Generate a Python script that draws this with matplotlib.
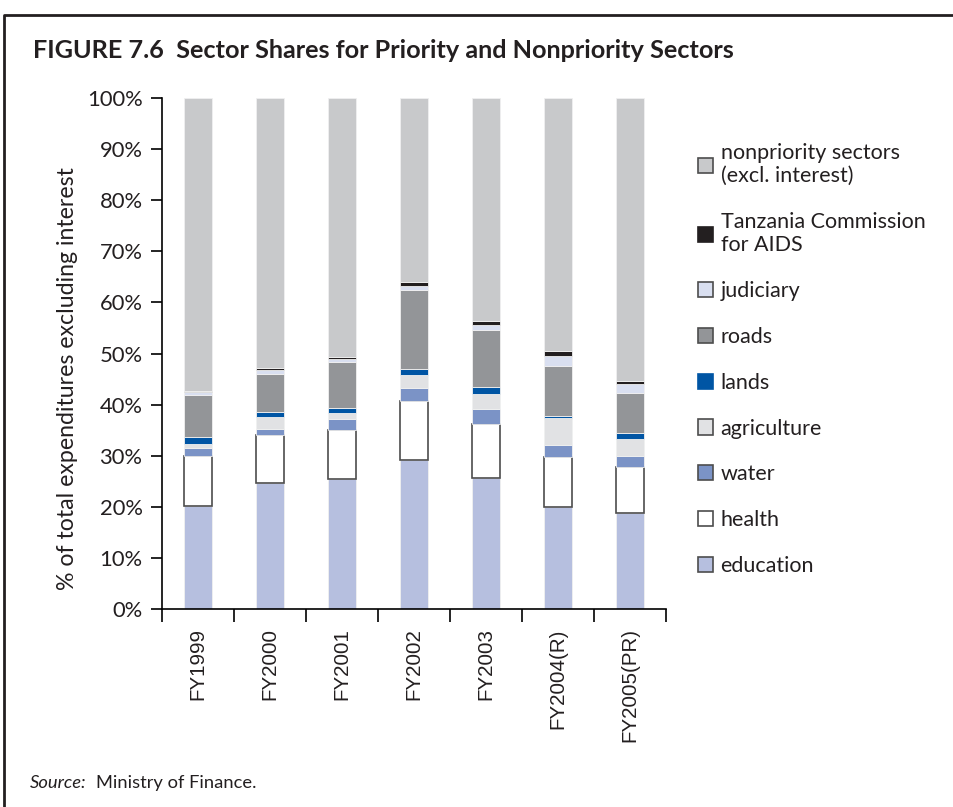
import numpy as np
import matplotlib.pyplot as plt
from matplotlib.patches import Patch
from matplotlib.lines import Line2D

# values in % of total expenditures excluding interest
years = ["FY1999", "FY2000", "FY2001", "FY2002", "FY2003", "FY2004(R)", "FY2005(PR)"]
education = [20.2, 24.7, 25.4, 29.2, 25.7, 19.9, 18.7]
health = [9.8, 9.4, 9.6, 11.6, 10.6, 9.9, 9.0]
water = [1.6, 1.2, 2.2, 2.5, 2.8, 2.3, 2.3]
agriculture = [0.7, 2.3, 1.1, 2.5, 3.0, 5.2, 3.3]
lands = [1.4, 1.0, 1.1, 1.1, 1.4, 0.5, 1.1]
roads = [8.2, 7.4, 8.9, 15.5, 11.1, 9.8, 7.8]
judiciary = [0.5, 0.8, 0.6, 0.9, 1.0, 1.9, 1.8]
aids = [0.3, 0.4, 0.4, 0.6, 0.8, 1.0, 0.7]

series = [
    ("education", education, "#b6bfdf"),
    ("health", health, "#ffffff"),
    ("water", water, "#7b93c6"),
    ("agriculture", agriculture, "#e1e2e4"),
    ("lands", lands, "#0055a4"),
    ("roads", roads, "#939598"),
    ("judiciary", judiciary, "#d9dff0"),
    ("Tanzania Commission\nfor AIDS", aids, "#231f20"),
]
nonpriority = list(100 - np.sum([s[1] for s in series], axis=0))
series.append(("nonpriority sectors\n(excl. interest)", nonpriority, "#c8c9cb"))

fig = plt.figure(figsize=(9.54, 8.07), dpi=100)
ax = fig.add_axes([162 / 954, 1 - 609 / 807, 504 / 954, 511 / 807])

x = np.arange(len(years))
bottom = np.zeros(len(years))
handles = []
for name, vals, color in series:
    if name == "health":
        ec, lw = "#4d4d4d", 1.2
    else:
        ec, lw = "#f0f0f0", 0.6
    ax.bar(x, vals, 0.4, bottom=bottom, color=color, edgecolor=ec, linewidth=lw)
    bottom += np.array(vals)
    hec = "#4d4d4d" if color not in ("#0055a4", "#231f20") else color
    handles.append(Patch(facecolor=color, edgecolor=hec, linewidth=1.2, label=name))

ax.set_xlim(-0.5, len(years) - 0.5)
ax.set_ylim(0, 100)
ax.set_yticks(np.arange(0, 101, 10))
ax.set_yticklabels([f"{v}%" for v in range(0, 101, 10)], fontsize=15.8,
                   family="Lato", color="#231f20")
ax.set_xticks(x)
ax.set_xticklabels(years, rotation=90, fontsize=14.8, family="Liberation Sans",
                   color="#231f20")
ax.set_xticks(np.arange(-0.5, len(years)), minor=True)
ax.tick_params(axis="x", which="major", length=0, pad=14)
ax.tick_params(axis="x", which="minor", length=9, width=1.2, direction="out")
ax.tick_params(axis="y", length=8, width=1.2, direction="out", pad=6)
for s in ("top", "right"):
    ax.spines[s].set_visible(False)
for s in ("left", "bottom"):
    ax.spines[s].set_linewidth(1.2)
ax.set_ylabel("% of total expenditures excluding interest", fontsize=16.7,
              family="Lato", color="#231f20")
ax.yaxis.set_label_coords(-84 / 504, 0.45)

leg = fig.legend(handles=handles[::-1], loc="upper left",
                 bbox_to_anchor=(698 / 954, 1 - 143 / 807), frameon=False,
                 prop={"family": "Lato", "size": 15.5}, handlelength=0.7,
                 handleheight=0.7, handletextpad=0.35, labelspacing=1.2,
                 borderpad=0, borderaxespad=0)
for t in leg.get_texts():
    t.set_color("#231f20")

fig.text(33 / 954, 1 - 50 / 807, "FIGURE 7.6  Sector Shares for Priority and Nonpriority Sectors",
         fontsize=18.2, fontweight="bold", family="Lato", va="center", ha="left",
         color="#231f20")
fig.text(30 / 954, 1 - 783 / 807, "Source:", fontsize=13.2, style="italic",
         family="Lato", va="center", ha="left", color="#231f20")
fig.text(96 / 954, 1 - 783 / 807, "Ministry of Finance.", fontsize=13.2,
         family="Lato", va="center", ha="left", color="#231f20")

# frame around the figure box
fig.add_artist(Line2D([4 / 954, 4 / 954, 1.0], [0.0, 1 - 15 / 807, 1 - 15 / 807],
                      transform=fig.transFigure, color="#231f20", linewidth=2))

fig.savefig("out.png", dpi=100)
